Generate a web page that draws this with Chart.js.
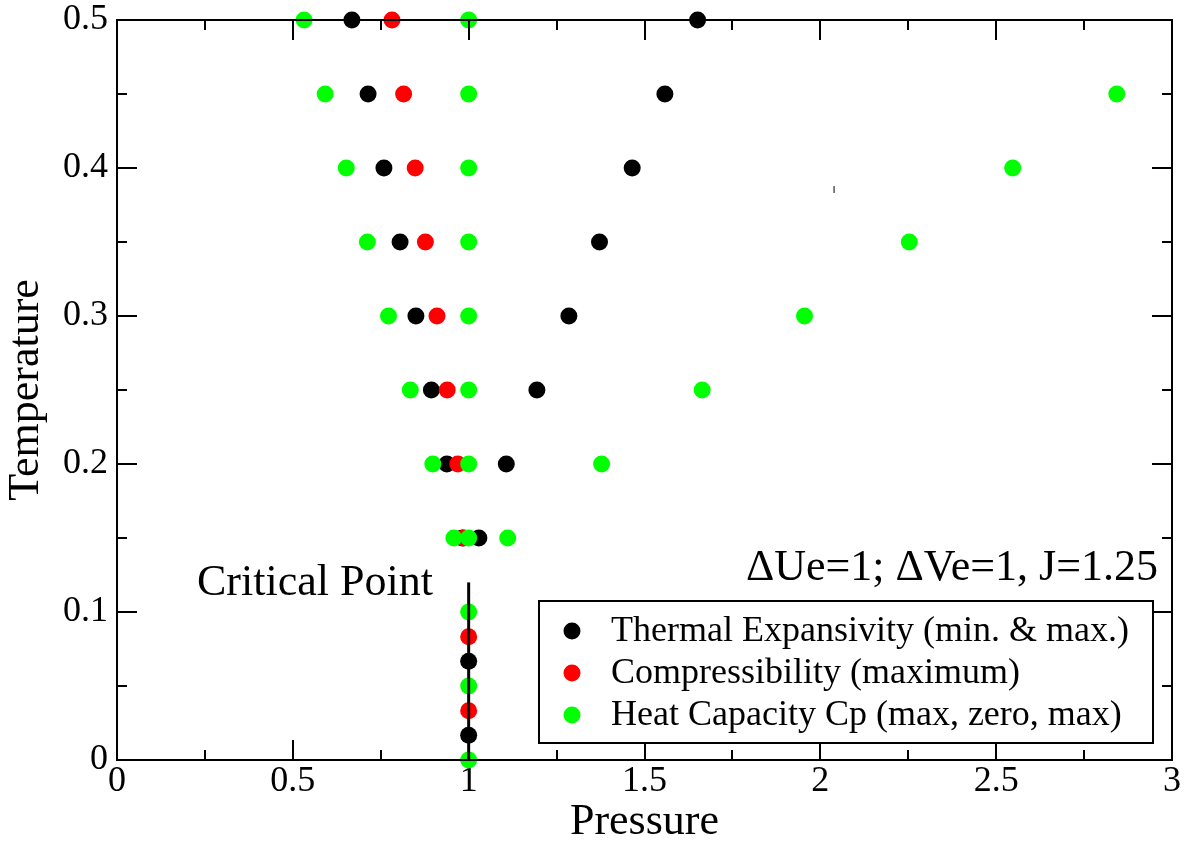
<!DOCTYPE html>
<html>
<head>
<meta charset="utf-8">
<script src="https://cdn.jsdelivr.net/npm/chart.js@4.4.1/dist/chart.umd.min.js"></script>
<style>
  html, body { margin: 0; padding: 0; background: #ffffff; }
  #wrap { width: 1196px; height: 844px; position: relative; }
</style>
</head>
<body>
<div id="wrap"><canvas id="c" width="1196" height="844"></canvas></div>
<script>
// ---------- data ----------
const seriesLabels = [
  'Thermal Expansivity (min. & max.)',
  'Compressibility (maximum)',
  'Heat Capacity Cp (max, zero, max)'
];
const seriesColors = ['#000000', '#ff0000', '#00ff00'];

const thermalP = [0.668, 1.651, 0.714, 1.558, 0.759, 1.465, 0.805, 1.372, 0.850, 1.285, 0.894, 1.194, 0.938, 1.107, 0.982, 1.029, 1.0, 1.0];
const thermalT = [0.50, 0.50, 0.45, 0.45, 0.40, 0.40, 0.35, 0.35, 0.30, 0.30, 0.25, 0.25, 0.20, 0.20, 0.15, 0.15, 0.0667, 0.0167];

const compP = [0.782, 0.815, 0.848, 0.877, 0.910, 0.939, 0.969, 0.986, 1.0, 1.0];
const compT = [0.50, 0.45, 0.40, 0.35, 0.30, 0.25, 0.20, 0.15, 0.0833, 0.0333];

const heatP = [0.532, 1.0, 0.592, 1.0, 2.843, 0.652, 1.0, 2.547, 0.712, 1.0, 2.253, 0.772, 1.0, 1.955, 0.834, 1.0, 1.664, 0.898, 1.0, 1.378, 0.958, 1.0, 1.111, 1.0, 1.0, 1.0];
const heatT = [0.50, 0.50, 0.45, 0.45, 0.45, 0.40, 0.40, 0.40, 0.35, 0.35, 0.35, 0.30, 0.30, 0.30, 0.25, 0.25, 0.25, 0.20, 0.20, 0.20, 0.15, 0.15, 0.15, 0.10, 0.05, 0.0];

// critical line (P = 1, T from 0 to 0.12)
const criticalLineP = [1.0, 1.0];
const criticalLineT = [0.0, 0.12];

// small stray mark in the original
const strayP = [2.039, 2.039];
const strayT = [0.3831, 0.3878];

const xTickLabels = ['0', '0.5', '1', '1.5', '2', '2.5', '3'];
const yTickLabels = ['0', '0.1', '0.2', '0.3', '0.4', '0.5'];

const xTitle = 'Pressure';
const yTitle = 'Temperature';
const annotationCritical = 'Critical Point';
const annotationParams = '\u0394Ue=1; \u0394Ve=1, J=1.25';

// ---------- helpers ----------
const FONT = "'Liberation Serif', 'Times New Roman', serif";
function pts(xs, ys) { return xs.map((x, i) => ({ x: x, y: ys[i] })); }

const frameAndTicks = {
  id: 'frameAndTicks',
  afterDatasetsDraw(chart) {
    const { ctx, chartArea: a, scales: { x, y } } = chart;
    ctx.save();
    ctx.strokeStyle = '#000';
    ctx.lineWidth = 2;
    ctx.lineCap = 'butt';
    for (let k = 0; k <= 12; k++) {
      const v = k * 0.25;
      const px = Math.round(x.getPixelForValue(v));
      const len = (k % 2 === 0) ? 20 : 10;
      ctx.beginPath();
      ctx.moveTo(px, a.bottom); ctx.lineTo(px, a.bottom - len);
      ctx.moveTo(px, a.top); ctx.lineTo(px, a.top + len);
      ctx.stroke();
    }
    for (let k = 0; k <= 10; k++) {
      const v = k * 0.05;
      const py = Math.round(y.getPixelForValue(v));
      const len = (k % 2 === 0) ? 20 : 10;
      ctx.beginPath();
      ctx.moveTo(a.left, py); ctx.lineTo(a.left + len, py);
      ctx.moveTo(a.right, py); ctx.lineTo(a.right - len, py);
      ctx.stroke();
    }
    ctx.strokeRect(a.left, a.top, a.right - a.left, a.bottom - a.top);
    ctx.restore();
  },
  afterDraw(chart) {
    const { ctx } = chart;
    ctx.save();
    ctx.fillStyle = '#000';
    ctx.font = '44px ' + FONT;
    ctx.textBaseline = 'alphabetic';
    ctx.textAlign = 'left';
    ctx.fillText(annotationCritical, 197, 595);
    ctx.textAlign = 'right';
    ctx.fillText(annotationParams, 1158, 580);

    const bx = 539, by = 601, bw = 614, bh = 142;
    ctx.fillStyle = '#fff';
    ctx.fillRect(bx, by, bw, bh);
    ctx.strokeStyle = '#000';
    ctx.lineWidth = 2;
    ctx.strokeRect(bx, by, bw, bh);
    const rows = [631, 673, 715];
    ctx.font = '36px ' + FONT;
    ctx.textAlign = 'left';
    ctx.textBaseline = 'middle';
    for (let i = 0; i < 3; i++) {
      ctx.fillStyle = seriesColors[i];
      ctx.beginPath();
      ctx.arc(572, rows[i], 8.5, 0, Math.PI * 2);
      ctx.fill();
      ctx.fillStyle = '#000';
      ctx.fillText(seriesLabels[i], 611, rows[i] + 1);
    }
    ctx.restore();
  }
};

const pointStyleOpts = (c) => ({
  pointRadius: 8.5,
  pointHoverRadius: 8.5,
  pointBackgroundColor: c,
  pointBorderColor: c,
  pointBorderWidth: 0,
  backgroundColor: c,
  borderColor: c,
  showLine: false
});

new Chart(document.getElementById('c'), {
  type: 'scatter',
  data: {
    datasets: [
      Object.assign({ label: seriesLabels[0], data: pts(thermalP, thermalT), order: 3 }, pointStyleOpts(seriesColors[0])),
      Object.assign({ label: seriesLabels[1], data: pts(compP, compT), order: 2 }, pointStyleOpts(seriesColors[1])),
      Object.assign({ label: seriesLabels[2], data: pts(heatP, heatT), order: 1 }, pointStyleOpts(seriesColors[2])),
      {
        label: 'critical', type: 'line', data: pts(criticalLineP, criticalLineT), order: 0,
        showLine: true, borderColor: '#000', borderWidth: 3, pointRadius: 0, fill: false
      },
      {
        label: 'stray', type: 'line', data: pts(strayP, strayT), order: 0,
        showLine: true, borderColor: '#000', borderWidth: 1, pointRadius: 0, fill: false
      }
    ]
  },
  options: {
    responsive: false,
    animation: false,
    devicePixelRatio: 1,
    clip: false,
    layout: { padding: { left: 4, right: 24, top: 20, bottom: 0 } },
    plugins: { legend: { display: false }, tooltip: { enabled: false } },
    scales: {
      x: {
        type: 'linear', min: 0, max: 3,
        afterFit(s) { s.height = 84; s.paddingLeft = 0; s.paddingRight = 0; },
        grid: { display: false, drawTicks: false },
        border: { display: false },
        ticks: {
          stepSize: 0.5, color: '#000', padding: 4,
          font: { family: FONT, size: 36, lineHeight: 1 },
          maxRotation: 0, autoSkip: false,
          callback: (v, i) => xTickLabels[i]
        },
        title: {
          display: true, text: xTitle, color: '#000',
          font: { family: FONT, size: 44, lineHeight: 1 }, padding: 0
        }
      },
      y: {
        type: 'linear', min: 0, max: 0.5,
        afterFit(s) { s.width = 113; s.paddingTop = 0; s.paddingBottom = 0; },
        grid: { display: false, drawTicks: false },
        border: { display: false },
        ticks: {
          stepSize: 0.1, color: '#000', padding: 9,
          font: { family: FONT, size: 36, lineHeight: 1 },
          autoSkip: false,
          callback: (v, i) => yTickLabels[i]
        },
        title: {
          display: true, text: yTitle, color: '#000',
          font: { family: FONT, size: 44, lineHeight: 1 }, padding: 0
        }
      }
    }
  },
  plugins: [frameAndTicks]
});
</script>
</body>
</html>
